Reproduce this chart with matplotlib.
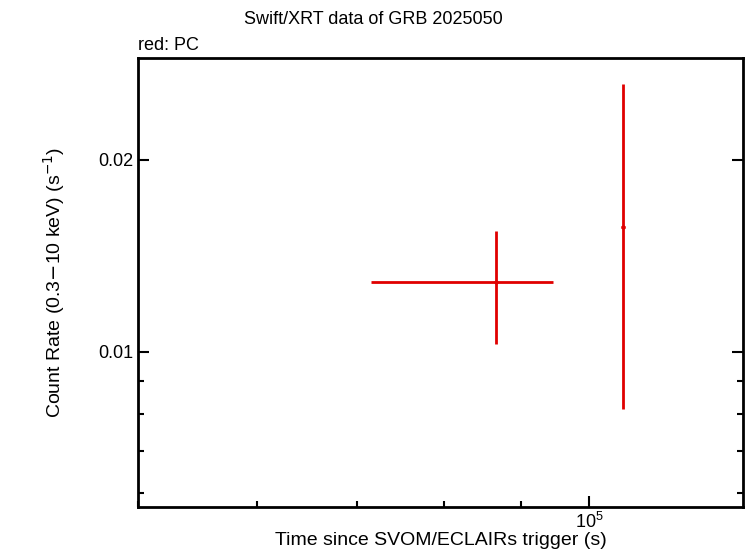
import matplotlib
matplotlib.use('Agg')
import matplotlib.pyplot as plt
from matplotlib.ticker import LogLocator, NullFormatter, FixedLocator, FixedFormatter

plt.rcParams['font.family'] = ['Liberation Sans', 'DejaVu Sans']

# PC data
t = [8.67e4, 1.053e5]
t_lo = [7.15e4, 1.050e5]
t_hi = [9.45e4, 1.056e5]
rate = [0.01287, 0.01570]
rate_lo = [0.01029, 0.00814]
rate_hi = [0.01546, 0.0263]

fig = plt.figure(figsize=(7.46, 5.58), dpi=100)
ax = fig.add_axes([138/746, 1-507/558, (743-138)/746, (507-58)/558])

xerr = [[a - b for a, b in zip(t, t_lo)], [b - a for a, b in zip(t, t_hi)]]
yerr = [[a - b for a, b in zip(rate, rate_lo)], [b - a for a, b in zip(rate, rate_hi)]]
ax.errorbar(t, rate, xerr=xerr, yerr=yerr, fmt='o', ms=2, color='#e00000',
            ecolor='#e00000', elinewidth=2, capsize=0)

ax.set_xscale('log')
ax.set_yscale('log')
ax.set_xlim(5.0e4, 1.266e5)
ax.set_ylim(0.00571, 0.0289)

ax.yaxis.set_major_locator(FixedLocator([0.01, 0.02]))
ax.yaxis.set_major_formatter(FixedFormatter(['0.01', '0.02']))
ax.yaxis.set_minor_locator(LogLocator(subs=range(1, 10), numticks=20))
ax.yaxis.set_minor_formatter(NullFormatter())
ax.xaxis.set_minor_formatter(NullFormatter())

ax.tick_params(which='both', direction='in', top=False, right=True, labelsize=13)
ax.tick_params(which='major', length=8, width=1.5)
ax.tick_params(which='minor', length=4, width=1.5)
for s in ax.spines.values():
    s.set_linewidth(2)

ax.set_xlabel('Time since SVOM/ECLAIRs trigger (s)', fontsize=14, labelpad=0)
ax.set_ylabel('Count Rate (0.3$-$10 keV) (s$^{-1}$)', fontsize=14, labelpad=22)
fig.text(0.5, 1-20/558, 'Swift/XRT data of GRB 2025050', ha='center', va='center', fontsize=13)
ax.text(0, 1.01, 'red: PC', transform=ax.transAxes, ha='left', va='bottom', fontsize=13)

fig.savefig('out.png', dpi=100)
